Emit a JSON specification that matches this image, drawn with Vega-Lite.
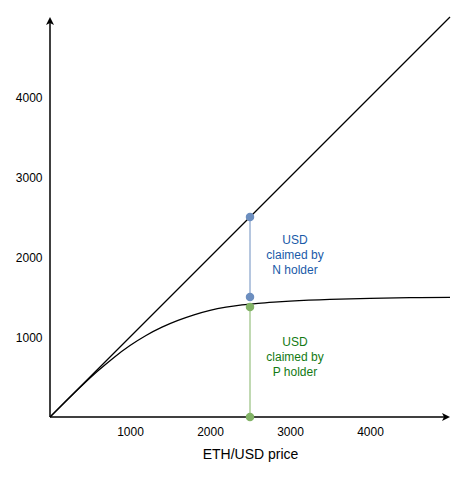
{
  "$schema": "https://vega.github.io/schema/vega-lite/v6.json",
  "width": 400,
  "height": 400,
  "autosize": "none",
  "padding": {"left": 50, "top": 17, "right": 19, "bottom": 61},
  "config": {"view": {"stroke": null}, "font": "Liberation Sans"},
  "datasets": {
    "diag": [{"price": 0, "usd": 0}, {"price": 5000, "usd": 5000}],
    "curve": [
      {"price": 0, "usd": 0}, {"price": 200, "usd": 199}, {"price": 400, "usd": 393},
      {"price": 600, "usd": 577}, {"price": 800, "usd": 745}, {"price": 1000, "usd": 893},
      {"price": 1200, "usd": 1019}, {"price": 1400, "usd": 1123}, {"price": 1600, "usd": 1207},
      {"price": 1800, "usd": 1277}, {"price": 2000, "usd": 1333}, {"price": 2200, "usd": 1373},
      {"price": 2400, "usd": 1401}, {"price": 2600, "usd": 1421}, {"price": 2800, "usd": 1436},
      {"price": 3000, "usd": 1448}, {"price": 3500, "usd": 1470}, {"price": 4000, "usd": 1483},
      {"price": 4500, "usd": 1491}, {"price": 5000, "usd": 1496}
    ],
    "claims": [
      {"holder": "N", "price": 2500, "top": 2500, "bottom": 1500},
      {"holder": "P", "price": 2500, "top": 1375, "bottom": 0}
    ],
    "dots": [
      {"holder": "N", "price": 2500, "usd": 2500},
      {"holder": "N", "price": 2500, "usd": 1500},
      {"holder": "P", "price": 2500, "usd": 1375},
      {"holder": "P", "price": 2500, "usd": 0}
    ],
    "notes": [
      {"holder": "N", "price": 3062, "usd": 2212, "line": "USD"},
      {"holder": "N", "price": 3062, "usd": 2025, "line": "claimed by"},
      {"holder": "N", "price": 3062, "usd": 1837, "line": "N holder"},
      {"holder": "P", "price": 3062, "usd": 937, "line": "USD"},
      {"holder": "P", "price": 3062, "usd": 750, "line": "claimed by"},
      {"holder": "P", "price": 3062, "usd": 562, "line": "P holder"}
    ],
    "axesx": [{"price": 0, "price2": 4960, "usd": 0}],
    "axesy": [{"price": 0, "usd": 0, "usd2": 4960}],
    "arrows": [
      {"dir": "x", "price": 4950, "usd": 0},
      {"dir": "y", "price": 0, "usd": 4950}
    ]
  },
  "layer": [
    {
      "data": {"name": "diag"},
      "mark": {"type": "line", "color": "#000000", "strokeWidth": 1.2},
      "encoding": {
        "x": {"field": "price", "type": "quantitative", "scale": {"domain": [0, 5000], "nice": false},
          "axis": {"values": [1000, 2000, 3000, 4000], "format": "d", "domain": false, "ticks": false, "grid": false,
            "labelFontSize": 12, "labelColor": "#000000", "labelPadding": 9, "labelFont": "Liberation Sans",
            "title": "ETH/USD price", "titleFontSize": 14, "titleFontWeight": "normal", "titleColor": "#000000",
            "titlePadding": 10, "titleFont": "Liberation Sans"}},
        "y": {"field": "usd", "type": "quantitative", "scale": {"domain": [0, 5000], "nice": false},
          "axis": {"values": [1000, 2000, 3000, 4000], "format": "d", "domain": false, "ticks": false, "grid": false,
            "labelFontSize": 12, "labelColor": "#000000", "labelPadding": 8, "labelFont": "Liberation Sans",
            "title": null}}
      }
    },
    {
      "data": {"name": "curve"},
      "mark": {"type": "line", "color": "#000000", "strokeWidth": 1.3, "interpolate": "monotone"},
      "encoding": {
        "x": {"field": "price", "type": "quantitative"},
        "y": {"field": "usd", "type": "quantitative"}
      }
    },
    {
      "data": {"name": "axesx"},
      "mark": {"type": "rule", "color": "#000000", "strokeWidth": 1.5},
      "encoding": {
        "x": {"field": "price", "type": "quantitative"},
        "x2": {"field": "price2"},
        "y": {"field": "usd", "type": "quantitative"}
      }
    },
    {
      "data": {"name": "axesy"},
      "mark": {"type": "rule", "color": "#000000", "strokeWidth": 1.5},
      "encoding": {
        "x": {"field": "price", "type": "quantitative"},
        "y": {"field": "usd", "type": "quantitative"},
        "y2": {"field": "usd2"}
      }
    },
    {
      "data": {"name": "arrows"},
      "transform": [{"filter": "datum.dir == 'x'"}],
      "mark": {"type": "point", "shape": "M1,0 L-1,-1 L-0.5,0 L-1,1 Z", "size": 64, "filled": true, "color": "#000000", "opacity": 1},
      "encoding": {
        "x": {"field": "price", "type": "quantitative"},
        "y": {"field": "usd", "type": "quantitative"}
      }
    },
    {
      "data": {"name": "arrows"},
      "transform": [{"filter": "datum.dir == 'y'"}],
      "mark": {"type": "point", "shape": "M0,-1 L-1,1 L0,0.5 L1,1 Z", "size": 64, "filled": true, "color": "#000000", "opacity": 1},
      "encoding": {
        "x": {"field": "price", "type": "quantitative"},
        "y": {"field": "usd", "type": "quantitative"}
      }
    },
    {
      "data": {"name": "claims"},
      "mark": {"type": "rule", "strokeWidth": 1},
      "encoding": {
        "x": {"field": "price", "type": "quantitative"},
        "y": {"field": "top", "type": "quantitative"},
        "y2": {"field": "bottom"},
        "color": {"field": "holder", "type": "nominal", "scale": {"domain": ["N", "P"], "range": ["#6c8ebf", "#82b366"]}, "legend": null}
      }
    },
    {
      "data": {"name": "dots"},
      "mark": {"type": "circle", "size": 72, "opacity": 1},
      "encoding": {
        "x": {"field": "price", "type": "quantitative"},
        "y": {"field": "usd", "type": "quantitative"},
        "color": {"field": "holder", "type": "nominal", "scale": {"domain": ["N", "P"], "range": ["#6c8ebf", "#82b366"]}, "legend": null}
      }
    },
    {
      "data": {"name": "notes"},
      "mark": {"type": "text", "fontSize": 12, "font": "Liberation Sans", "align": "center", "baseline": "middle"},
      "encoding": {
        "x": {"field": "price", "type": "quantitative"},
        "y": {"field": "usd", "type": "quantitative"},
        "text": {"field": "line"},
        "color": {"field": "holder", "type": "nominal", "scale": {"domain": ["N", "P"], "range": ["#1a5aa8", "#137a13"]}, "legend": null}
      }
    }
  ],
  "resolve": {"scale": {"color": "independent"}}
}
